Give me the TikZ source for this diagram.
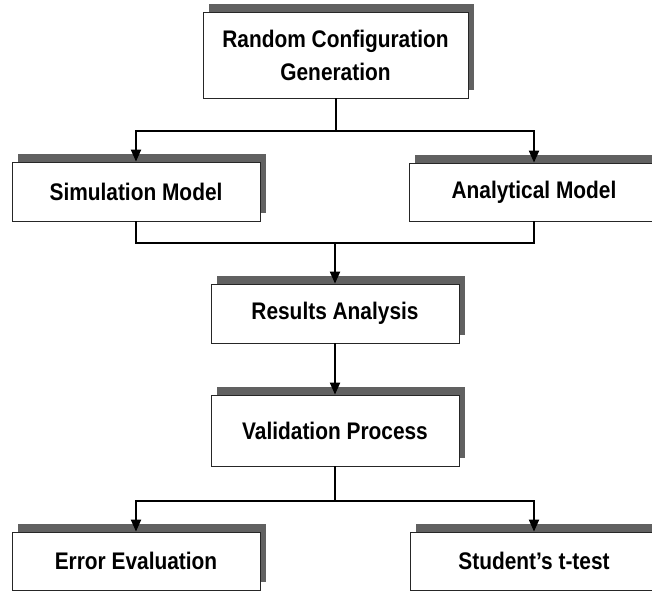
\documentclass[tikz,border=0pt]{standalone}
\usepackage{fontspec}
\setmainfont[FakeStretch=0.87]{Liberation Sans}
\usetikzlibrary{shadows,arrows.meta}
\begin{document}
\begin{tikzpicture}[x=0.5pt,y=-0.5pt,
  stepbox/.style={draw=black!85,line width=0.4pt,fill=white,inner sep=0pt,
    align=center,font=\bfseries\fontsize{12}{16.5}\selectfont,
    general shadow={shadow xshift=3pt,shadow yshift=3.8pt,fill=black!62}},
  link/.style={line width=1pt},
  arr/.style={link,-{Triangle[length=6pt,width=5pt]}}]
\clip (0,0) rectangle (652,592);
\node[stepbox,minimum width=132.5pt,minimum height=43pt] (gen) at (335.5,55) {Random Configuration\\Generation};
\node[stepbox,minimum width=124pt,minimum height=29.5pt] (sim) at (136,191.5) {Simulation Model};
\node[stepbox,minimum width=125pt,minimum height=29pt] (ana) at (534,192) {Analytical Model};
\node[stepbox,minimum width=124pt,minimum height=29.5pt] (res) at (335,313.5) {Results Analysis};
\node[stepbox,minimum width=124pt,minimum height=35.5pt] (val) at (335,430.5) {Validation Process};
\node[stepbox,minimum width=124pt,minimum height=29pt] (err) at (136,561) {Error Evaluation};
\node[stepbox,minimum width=124pt,minimum height=29pt] (stu) at (534,561) {Student's t-test};
\coordinate (split1) at (335.5,131);
\coordinate (join) at (335,243);
\coordinate (split2) at (335,501);
\draw[link] (gen) -- (split1);
\draw[arr] (split1) -| (sim);
\draw[arr] (split1) -| (ana);
\draw[link] (sim.south) |- (join) -| (ana.south);
\draw[arr] (join) -- (res);
\draw[arr] (res) -- (val);
\draw[link] (val) -- (split2);
\draw[arr] (split2) -| (err);
\draw[arr] (split2) -| (stu);
\end{tikzpicture}
\end{document}
